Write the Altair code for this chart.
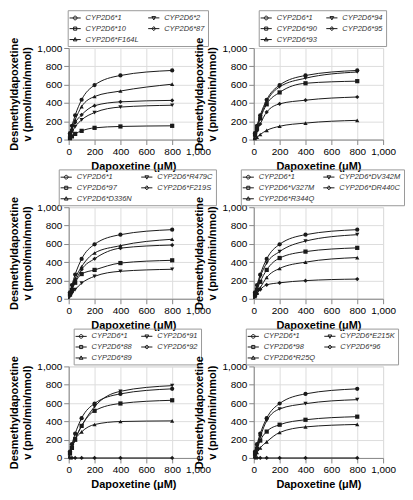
import altair as alt
import pandas as pd

conc = [10, 25, 50, 100, 200, 400, 800]
wt = [70, 150, 265, 435, 595, 700, 755]

p1_names = ["CYP2D6*1", "CYP2D6*2", "CYP2D6*10", "CYP2D6*87", "CYP2D6*F164L"]
p1_vals = [wt,
           [40, 80, 140, 215, 295, 355, 375],
           [15, 35, 62, 95, 128, 143, 150],
           [50, 110, 185, 270, 370, 412, 428],
           [60, 120, 215, 360, 470, 530, 605]]

p2_names = ["CYP2D6*1", "CYP2D6*94", "CYP2D6*90", "CYP2D6*95", "CYP2D6*93"]
p2_vals = [wt,
           [65, 140, 245, 415, 575, 670, 738],
           [55, 120, 230, 385, 515, 615, 638],
           [40, 95, 170, 300, 390, 430, 465],
           [12, 25, 55, 100, 145, 180, 210]]

p3_names = ["CYP2D6*1", "CYP2D6*R479C", "CYP2D6*97", "CYP2D6*F219S", "CYP2D6*D336N"]
p3_vals = [wt,
           [25, 55, 100, 170, 245, 300, 322],
           [45, 95, 175, 270, 315, 390, 420],
           [50, 110, 190, 320, 437, 553, 587],
           [55, 120, 220, 350, 500, 580, 650]]

p4_names = ["CYP2D6*1", "CYP2D6*DV342M", "CYP2D6*V327M", "CYP2D6*DR440C", "CYP2D6*R344Q"]
p4_vals = [wt,
           [60, 130, 240, 390, 515, 630, 700],
           [45, 100, 185, 315, 445, 515, 556],
           [25, 60, 100, 152, 174, 198, 215],
           [25, 60, 120, 232, 331, 400, 450]]

p5_names = ["CYP2D6*1", "CYP2D6*91", "CYP2D6*88", "CYP2D6*92", "CYP2D6*89"]
p5_vals = [wt,
           [45, 110, 210, 350, 560, 728, 790],
           [50, 110, 200, 350, 515, 595, 630],
           [0, 0, 0, 0, 0, 0, 0],
           [50, 110, 200, 285, 365, 398, 405]]

p6_names = ["CYP2D6*1", "CYP2D6*E215K", "CYP2D6*98", "CYP2D6*96", "CYP2D6*R25Q"]
p6_vals = [wt,
           [55, 120, 230, 407, 535, 593, 637],
           [45, 100, 190, 288, 363, 417, 451],
           [0, 0, 0, 0, 0, 0, 0],
           [25, 60, 110, 176, 278, 339, 366]]

axis_ticks = [0, 200, 400, 600, 800, 1000]

SHAPES = ["circle", "triangle-down", "square", "diamond", "triangle-up"]
LINE = "M-1.5,0H1.5"
LEG_PATHS = [
    LINE + "M-0.5,0A0.5,0.5,0,1,0,0.5,0A0.5,0.5,0,1,0,-0.5,0Z",
    LINE + "M0,0.55L0.5,-0.35H-0.5Z",
    LINE + "M-0.42,-0.42H0.42V0.42H-0.42Z",
    LINE + "M0,-0.55L0.5,0L0,0.55L-0.5,0Z",
    LINE + "M0,-0.55L0.5,0.35H-0.5Z",
]

INK = "#1a1a1a"
W, H = 130, 92


def panel(names, vals, lx):
    rows = []
    for n, v in zip(names, vals):
        for c, val in zip(conc, v):
            rows.append({"series": n, "conc": c, "v": val})
    df = pd.DataFrame(rows)
    origin = pd.DataFrame({"series": names, "conc": [0] * len(names), "v": [0] * len(names)})
    curve = pd.concat([origin, df], ignore_index=True)

    x = alt.X("conc:Q", scale=alt.Scale(domain=[0, 1000], nice=False),
              axis=alt.Axis(values=axis_ticks, format=",.0f", title="Dapoxetine (μM)",
                            labelFlush=False))
    y = alt.Y("v:Q", scale=alt.Scale(domain=[0, 1000], nice=False),
              axis=alt.Axis(values=axis_ticks, format=",.0f",
                            title=["Desmethyldapoxetine", "v (pmol/min/nmol)"]))

    line = alt.Chart(curve).mark_line(interpolate="monotone", color=INK, strokeWidth=1).encode(
        x=x, y=y, detail="series:N")
    pts = alt.Chart(df).mark_point(filled=True, color=INK, size=18, opacity=1).encode(
        x=x, y=y,
        shape=alt.Shape("series:N", scale=alt.Scale(domain=names, range=SHAPES), legend=None))
    leg = alt.Chart(df).mark_point(filled=False, color=INK, opacity=0).encode(
        x=x, y=y,
        shape=alt.Shape("series:N", scale=alt.Scale(domain=names, range=LEG_PATHS),
                        legend=alt.Legend(title=None, orient="none", direction="horizontal",
                                          legendX=lx, legendY=-38,
                                          columns=2, symbolOpacity=1, symbolSize=56,
                                          symbolFillColor=INK, symbolStrokeColor=INK,
                                          symbolStrokeWidth=1, labelOffset=6,
                                          labelFontStyle="italic", labelFontSize=7.5,
                                          labelColor="#333", labelFont="Liberation Sans",
                                          strokeColor="#999", padding=3, rowPadding=2,
                                          columnPadding=6)))
    return alt.layer(line, pts, leg).resolve_scale(shape="independent").properties(width=W, height=H)


chart = alt.concat(
    panel(p1_names, p1_vals, -1), panel(p2_names, p2_vals, 5),
    panel(p3_names, p3_vals, -10), panel(p4_names, p4_vals, -13),
    panel(p5_names, p5_vals, 5), panel(p6_names, p6_vals, -8),
    columns=2, spacing={"row": 68, "column": 56}, bounds="flush"
).configure_view(stroke=None).configure_axis(
    grid=False, labelFont="Liberation Sans", labelFontSize=8, labelColor="#333",
    titleFont="Liberation Sans", titleFontSize=9.5, titleFontWeight="bold", titleColor="#222",
    domainColor=INK, tickColor=INK, tickSize=3, titlePadding=3, titleLineHeight=11
).configure_axisY(titlePadding=2).configure(padding=0)

chart.save("out.html", embed_options={"renderer": "svg", "actions": False})
